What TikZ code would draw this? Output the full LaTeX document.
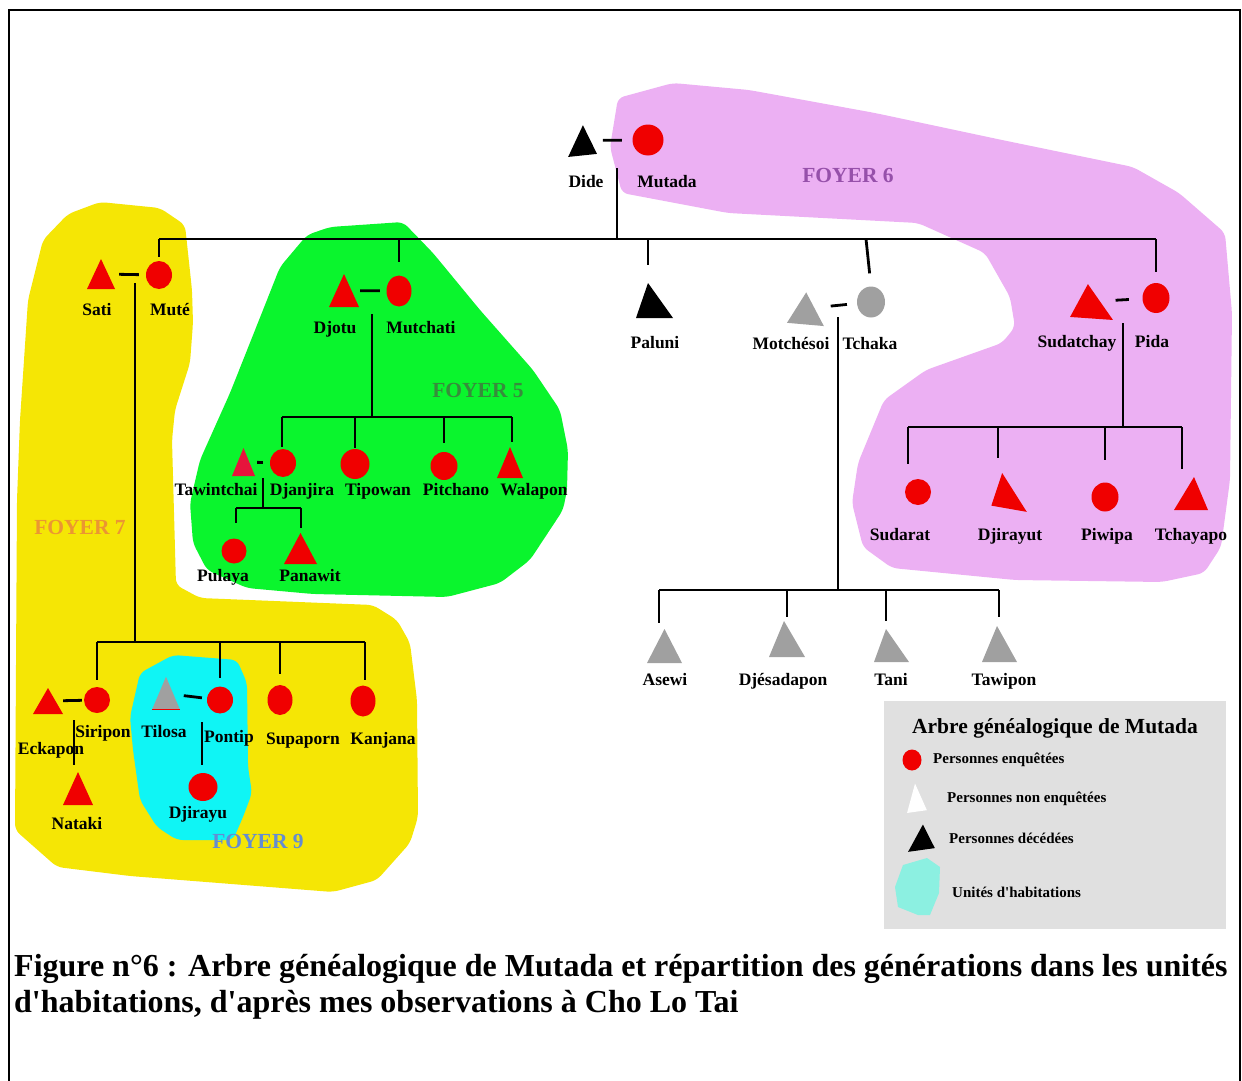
\documentclass[tikz,border=0pt]{standalone}
\usepackage{fontspec}
\usepackage{tikz}
\usetikzlibrary{shapes.geometric}
\newfontfamily\lib{Liberation Serif}
\newcommand\namefont{\lib\bfseries\fontsize{17.5}{20}\selectfont}
\newcommand\foyerfont{\lib\bfseries\fontsize{21.5}{24}\selectfont}
\newcommand\legfont{\lib\bfseries\fontsize{15}{18}\selectfont}
\newcommand\legtitlefont{\lib\bfseries\fontsize{21.5}{24}\selectfont}
\newcommand\capfont{\lib\bfseries\fontsize{32}{36}\selectfont}
\definecolor{kinred}{RGB}{240,0,0}
\definecolor{crimson}{RGB}{230,20,60}
\definecolor{tgray}{RGB}{160,160,160}
\definecolor{yellowzone}{RGB}{245,230,5}
\definecolor{greenzone}{RGB}{10,245,45}
\definecolor{cyanzone}{RGB}{15,245,245}
\definecolor{pinkzone}{RGB}{236,176,243}
\definecolor{legendgray}{RGB}{224,224,224}
\definecolor{legcyan}{RGB}{140,240,225}
\definecolor{foyersix}{RGB}{150,80,170}
\definecolor{foyerfive}{RGB}{55,140,60}
\definecolor{foyerseven}{RGB}{235,150,50}
\definecolor{foyernine}{RGB}{100,140,210}
% triangle: base width, height, apex offset
\def\tri#1#2#3{\tikz[x=1pt,y=1pt]{\fill (-#1/2,0)--(#3,#2)--(#1/2,0)--cycle;}}

\begin{document}
\begin{tikzpicture}[x=1pt,y=-1pt,
	kin/.style={line width=2.8pt},
	fem/.style={ellipse,inner sep=0pt,fill=kinred,minimum width=26pt,minimum height=28pt},
	masc/.style={inner sep=0pt,text=kinred},
	pname/.style={font=\namefont,inner sep=0pt,text height=12pt,text depth=3.5pt},
	foyer/.style={font=\foyerfont,inner sep=0pt},
	legtxt/.style={font=\legfont,inner sep=0pt,anchor=west}]
	\useasboundingbox (0,0) rectangle (1242,1081);
	% habitation zones
	\fill[yellowzone,rounded corners=6pt] (100,202) -- (68,214) -- (43,240) -- (28,300) -- (20,420) -- (17,500) -- (15,830) -- (57,867) -- (130,876) -- (333,892) -- (377,880) -- (410,843) -- (418,817) -- (417,700) -- (410,643) -- (397,620) -- (373,605) -- (200,598) -- (176,585) -- (172,440) -- (175,410) -- (190,363) -- (193,323) -- (192,290) -- (185,225) -- (160,208) -- cycle;
	\fill[greenzone,rounded corners=6pt] (307,235) -- (330,227) -- (403,222) -- (433,253) -- (480,310) -- (533,370) -- (560,410) -- (568,450) -- (567,490) -- (563,510) -- (530,560) -- (500,583) -- (447,597) -- (313,594) -- (247,588) -- (207,570) -- (193,543) -- (190,503) -- (200,460) -- (230,393) -- (263,310) -- (280,267) -- cycle;
	\fill[cyanzone,rounded corners=6pt] (173,655) -- (237,660) -- (247,683) -- (248,767) -- (252,793) -- (243,817) -- (233,840) -- (177,840) -- (157,827) -- (140,800) -- (133,750) -- (130,717) -- (140,673) -- cycle;
	\fill[pinkzone,rounded corners=6pt] (673,83) -- (618,98) -- (610,147) -- (622,193) -- (728,213) -- (918,223) -- (985,253) -- (1010,297) -- (1015,327) -- (1002,343) -- (926,370) -- (884,400) -- (858,463) -- (852,503) -- (863,547) -- (892,568) -- (1015,580) -- (1162,582) -- (1204,573) -- (1221,547) -- (1230,480) -- (1232,313) -- (1225,233) -- (1179,193) -- (1133,167) -- (1002,140) -- (875,113) -- (749,90) -- cycle;
	\node[foyer,text=foyersix] (foyer6) at (848,175) {FOYER 6};
	\node[foyer,text=foyerfive] (foyer5) at (478,390) {FOYER 5};
	\node[foyer,text=foyerseven] (foyer7) at (80,527) {FOYER 7};
	\node[foyer,text=foyernine] (foyer9) at (258,841) {FOYER 9};
	% frame
	\draw[line width=1.8pt] (9,1081) -- (9,10) -- (1240,10) -- (1240,1081);
	
	% Dide and Mutada
	\node[masc,text=black,rotate=6] (dide) at (581,140.5) {\tri{29}{30}{3.5}};
	\node[fem,minimum width=31pt,minimum height=31pt] (mutada) at (648,140) {};
	\node[pname] (tdide) at (586,183) {Dide};
	\node[pname] (tmutada) at (667,183) {Mutada};
	\draw[kin,shorten <=7pt,shorten >=10.5pt] (dide) -- (mutada);
	\coordinate (dmdown) at (617,168);
	\coordinate (mainL) at (159,239);
	\coordinate (mainR) at (1156,239);
	\draw[kin] (dmdown) -- (dmdown |- mainL);
	\draw[kin] (mainL) -- (mainR);
	
	% Sati and Mute
	\node[masc] (sati) at (101,274) {\tri{28}{30}{0}};
	\node[fem] (mute) at (159,275) {};
	\node[pname] (tsati) at (97,311) {Sati};
	\node[pname] (tmute) at (170,311) {Muté};
	\draw[kin,shorten <=4pt,shorten >=7pt] (sati) -- (mute);
	\draw[kin,shorten >=4pt] (mainL) -- (mute.north);
	
	% Djotu and Mutchati
	\node[masc] (djotu) at (344,290.5) {\tri{30}{33}{0}};
	\node[fem,minimum width=25pt,minimum height=31pt] (mutchati) at (399,291) {};
	\node[pname] (tdjotu) at (335,329) {Djotu};
	\node[pname] (tmutchati) at (421,329) {Mutchati};
	\draw[kin,shorten <=1pt,shorten >=6.5pt] (djotu) -- (mutchati);
	\draw[kin,shorten >=13pt] (mainL -| mutchati.north) -- (mutchati.north);
	
	% Paluni
	\node[masc,text=black] (paluni) at (654.5,300.5) {\tri{37}{35}{-6.5}};
	\node[pname] (tpaluni) at (655,344) {Paluni};
	\coordinate (palapex) at ([xshift=-6.5pt]paluni.north);
	\draw[kin,shorten >=18pt] (mainL -| palapex) -- (palapex);
	
	% Motchesoi and Tchaka
	\node[masc,text=tgray,rotate=-5] (motchesoi) at (806.8,308.5) {\tri{37}{32}{-2}};
	\node[fem,fill=tgray,minimum width=28pt,minimum height=31pt] (tchaka) at (871,302) {};
	\node[pname] (tmotchesoi) at (791,345) {Motchésoi};
	\node[pname] (ttchaka) at (870,345) {Tchaka};
	\draw[kin,shorten <=5pt,shorten >=10pt] (motchesoi) -- (tchaka);
	\coordinate (tchtop) at (866,239);
	\draw[kin,shorten >=13pt] (tchtop) -- (tchaka.north);
	
	% Sudatchay and Pida
	\node[masc,rotate=-4] (sudatchay) at (1092.7,301.5) {\tri{43}{34}{-6}};
	\node[fem,minimum width=27pt,minimum height=30pt] (pida) at (1156,298) {};
	\node[pname] (tsudatchay) at (1077,343) {Sudatchay};
	\node[pname] (tpida) at (1152,343) {Pida};
	\draw[kin,shorten <=1pt,shorten >=13.5pt] (sudatchay) -- (pida);
	\draw[kin,shorten >=11pt] (mainR) -- (pida.north);
	
	% children of Djotu and Mutchati
	\coordinate (djdown) at (372,314);
	\coordinate (f5L) at (282,417);
	\coordinate (f5R) at (512,417);
	\draw[kin] (djdown) -- (djdown |- f5L);
	\draw[kin] (f5L) -- (f5R);
	\node[masc,text=crimson] (tawintchai) at (243.5,462) {\tri{23}{28}{0}};
	\node[fem] (djanjira) at (283,463) {};
	\node[fem,minimum width=29pt,minimum height=30pt] (tipowan) at (355,464) {};
	\node[fem,minimum width=27pt,minimum height=28pt] (pitchano) at (444,466) {};
	\node[masc] (walapon) at (510,462.5) {\tri{26}{31}{0}};
	\node[pname] (ttawintchai) at (216,491) {Tawintchai};
	\node[pname] (tdjanjira) at (302,491) {Djanjira};
	\node[pname] (ttipowan) at (378,491) {Tipowan};
	\node[pname] (tpitchano) at (456,491) {Pitchano};
	\node[pname] (twalapon) at (534,491) {Walapon};
	\draw[kin,shorten >=2pt] (f5L) -- (f5L |- djanjira.north);
	\draw[kin,shorten >=1pt] (f5L -| tipowan.north) -- (tipowan.north);
	\draw[kin,shorten >=9pt] (f5L -| pitchano.north) -- (pitchano.north);
	\draw[kin,shorten >=5pt] (f5R) -- (f5R |- walapon.north);
	\draw[kin,shorten <=2pt,shorten >=7pt] (tawintchai) -- (djanjira);
	
	% children of Tawintchai and Djanjira
	\coordinate (tddown) at (263,478);
	\coordinate (f5bL) at (236,508);
	\coordinate (f5bR) at (301,508);
	\draw[kin] (tddown) -- (tddown |- f5bL);
	\draw[kin] (f5bL) -- (f5bR);
	\node[fem,minimum width=25pt,minimum height=25pt] (pulaya) at (234,551) {};
	\node[masc] (panawit) at (300.5,548.5) {\tri{33}{31}{0}};
	\node[pname] (tpulaya) at (223,577) {Pulaya};
	\node[pname] (tpanawit) at (310,577) {Panawit};
	\draw[kin,shorten >=15pt] (f5bL) -- (f5bL |- pulaya.north);
	\draw[kin,shorten >=5pt] (f5bR) -- (f5bR |- panawit.north);
	
	% children of Sati and Mute
	\coordinate (smdown) at (135,283);
	\coordinate (f7L) at (97,642);
	\coordinate (f7R) at (365,642);
	\draw[kin] (smdown) -- (smdown |- f7L);
	\draw[kin] (f7L) -- (f7R);
	\node[fem,minimum height=26pt] (siripon) at (97,700) {};
	\node[masc] (eckapon) at (48,701) {\tri{30}{26}{0}};
	\node[masc] (nataki) at (78,788.5) {\tri{30}{33}{0}};
	\node[masc,text=tgray] (tilosa) at (166,693.5) {\tikz[x=1pt,y=1pt]{\fill (-14,0)--(0,33)--(14,0)--cycle; \draw[kinred,line width=1.2pt] (-14,0)--(14,0);}};
	\node[fem,minimum height=27pt] (pontip) at (220,700) {};
	\node[fem,minimum width=29pt,minimum height=28pt] (djirayu) at (203,787) {};
	\node[fem,minimum width=25pt,minimum height=30pt] (supaporn) at (280,700) {};
	\node[fem,minimum width=25pt,minimum height=31pt] (kanjana) at (363,701) {};
	\node[pname] (tsiripon) at (103,733) {Siripon};
	\node[pname] (teckapon) at (51,750) {Eckapon};
	\node[pname] (tnataki) at (77,825) {Nataki};
	\node[pname] (ttilosa) at (164,733) {Tilosa};
	\node[pname] (tpontip) at (229,738) {Pontip};
	\node[pname] (tdjirayu) at (198,814) {Djirayu};
	\node[pname] (tsupaporn) at (303,740) {Supaporn};
	\node[pname] (tkanjana) at (383,740) {Kanjana};
	\draw[kin,shorten >=7pt] (f7L) -- (f7L |- siripon.north);
	\draw[kin,shorten >=8pt] (f7L -| pontip.north) -- (pontip.north);
	\draw[kin,shorten >=11pt] (f7L -| supaporn.north) -- (supaporn.north);
	\draw[kin,shorten >=5pt] (f7R) -- (f7R |- kanjana.north);
	\draw[kin,shorten >=2pt] (eckapon) -- (siripon);
	\coordinate (esdown) at (74,720);
	\draw[kin,shorten >=7pt] (esdown) -- (esdown |- nataki.north);
	\draw[kin,shorten <=3pt,shorten >=5pt] (tilosa) -- (pontip);
	\coordinate (tpdown) at (202,722);
	\draw[kin,shorten >=8pt] (tpdown) -- (tpdown |- djirayu.north);
	
	% children of Motchesoi and Tchaka
	\coordinate (mtdown) at (838,317);
	\coordinate (grayL) at (659,590);
	\coordinate (grayR) at (999,590);
	\draw[kin] (mtdown) -- (mtdown |- grayL);
	\draw[kin] (grayL) -- (grayR);
	\node[masc,text=tgray] (asewi) at (664.5,646) {\tri{35}{34}{0}};
	\node[masc,text=tgray] (djesadapon) at (787,639) {\tri{36}{36}{-3}};
	\node[masc,text=tgray] (tani) at (891.5,645.5) {\tri{35}{33}{-5.5}};
	\node[masc,text=tgray] (tawipon) at (999.5,644) {\tri{35}{36}{-2.5}};
	\node[pname] (tasewi) at (665,681) {Asewi};
	\node[pname] (tdjesadapon) at (783,681) {Djésadapon};
	\node[pname] (ttani) at (891,681) {Tani};
	\node[pname] (ttawipon) at (1004,681) {Tawipon};
	\draw[kin,shorten >=6pt] (grayL) -- (grayL |- asewi.north);
	\draw[kin,shorten >=4pt] (grayL -| djesadapon.north) -- (djesadapon.north);
	\coordinate (taniapex) at ([xshift=-5.5pt]tani.north);
	\draw[kin,shorten >=8pt] (grayL -| taniapex) -- (taniapex);
	\draw[kin,shorten >=9pt] (grayR) -- (grayR |- tawipon.north);
	
	% children of Sudatchay and Pida
	\coordinate (spdown) at (1123,323);
	\coordinate (f6L) at (908,427);
	\coordinate (f6R) at (1182,427);
	\draw[kin] (spdown) -- (spdown |- f6L);
	\draw[kin] (f6L) -- (f6R);
	\node[fem,minimum height=26pt] (sudarat) at (918,492) {};
	\node[masc,rotate=-10] (djirayut) at (1012,492) {\tri{36}{34}{-13}};
	\node[fem,minimum width=27pt,minimum height=29pt] (piwipa) at (1105,497) {};
	\node[masc] (tchayapo) at (1191,493.5) {\tri{34}{33}{3}};
	\node[pname] (tsudarat) at (900,536) {Sudarat};
	\node[pname] (tdjirayut) at (1010,536) {Djirayut};
	\node[pname] (tpiwipa) at (1107,536) {Piwipa};
	\node[pname] (ttchayapo) at (1191,536) {Tchayapo};
	\coordinate (djyapex) at (998,473);
	\draw[kin,shorten >=15pt] (f6L) -- (f6L |- sudarat.north);
	\draw[kin,shorten >=15pt] (f6L -| djyapex) -- (djyapex);
	\draw[kin,shorten >=22pt] (f6L -| piwipa.north) -- (piwipa.north);
	\draw[kin,shorten >=8pt] (f6R) -- (f6R |- tchayapo.north);
	
	% legend
	\node[fill=legendgray,minimum width=342pt,minimum height=228pt,inner sep=0pt] (legend) at (1055,815) {};
	\node[font=\legtitlefont,inner sep=0pt] (legtitle) at (1055,728) {Arbre généalogique de Mutada};
	\node[fem,minimum width=19pt,minimum height=21pt] (legfem) at (912,760) {};
	\node[legtxt] (legtfem) at (933,760) {Personnes enquêtées};
	\node[masc,text=white,rotate=8] (legwhite) at (915,797.7) {\tri{20}{28}{2}};
	\node[legtxt] (legtwhite) at (947,799) {Personnes non enquêtées};
	\node[masc,text=black,rotate=8] (legblack) at (919.7,837.6) {\tri{27}{25}{5}};
	\node[legtxt] (legtblack) at (949,838) {Personnes décédées};
	\fill[legcyan] (895,887) -- (903,865) -- (927,858) -- (940,867) -- (939,893) -- (930,915) -- (918,915) -- (898,907) -- cycle;
	\node[legtxt] (legtzone) at (952,892) {Unités d'habitations};
	
	% caption
	\node[font=\capfont,inner sep=0pt,anchor=west] (cap1) at (14,969) {Figure n°6 : Arbre généalogique de Mutada et répartition des générations dans les unités};
	\node[font=\capfont,inner sep=0pt,anchor=west] (cap2) at (14,1005) {d'habitations, d'après mes observations à Cho Lo Tai};
\end{tikzpicture}
\end{document}
